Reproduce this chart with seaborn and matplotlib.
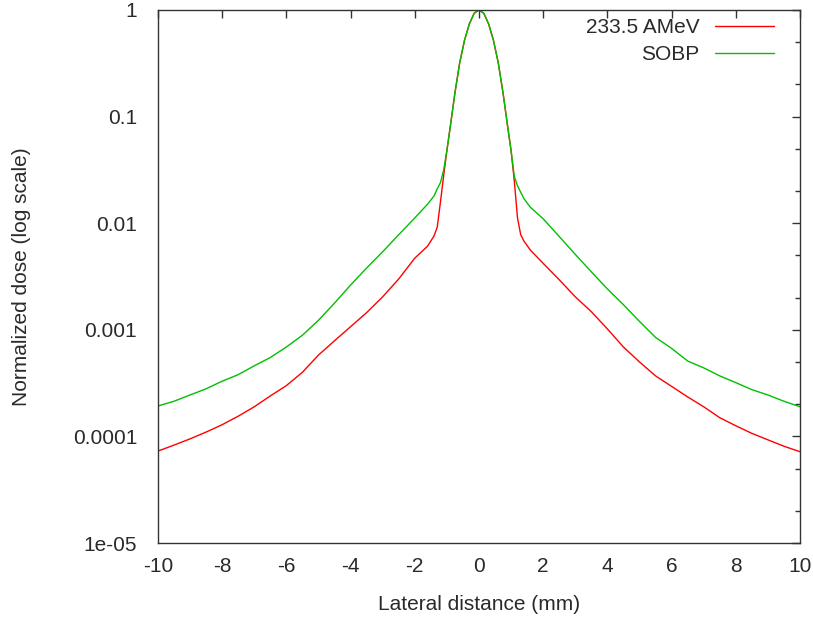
import numpy as np
import pandas as pd
import matplotlib
matplotlib.use("Agg")
import matplotlib.pyplot as plt
import matplotlib.ticker as mticker
import seaborn as sns

# Lateral positions (mm)
lateral_mm = [
    -10, -9.5, -9, -8.5, -8, -7.5, -7, -6.5, -6, -5.5, -5, -4.5, -4, -3.5, -3,
    -2.5, -2, -1.6, -1.4, -1.3, -1.2, -1.1, -1.0, -0.9, -0.75, -0.6, -0.45,
    -0.3, -0.15, 0, 0.15, 0.3, 0.45, 0.6, 0.75, 0.9, 1.0, 1.1, 1.2, 1.3, 1.4,
    1.6, 2, 2.5, 3, 3.5, 4, 4.5, 5, 5.5, 6, 6.5, 7, 7.5, 8, 8.5, 9, 9.5, 10,
]

# Normalized lateral dose, single 233.5 AMeV beam
dose_mono = [
    7.3e-5, 8.3e-5, 9.5e-5, 1.1e-4, 1.29e-4, 1.55e-4, 1.9e-4, 2.4e-4, 3.0e-4,
    4.0e-4, 5.8e-4, 7.9e-4, 1.07e-3, 1.45e-3, 2.04e-3, 3.0e-3, 4.7e-3, 6.1e-3,
    7.6e-3, 9.2e-3, 1.58e-2, 2.8e-2, 4.8e-2, 7.8e-2, 0.166, 0.32, 0.52, 0.74,
    0.93, 1.0, 0.93, 0.74, 0.52, 0.32, 0.166, 7.8e-2, 4.8e-2, 2.5e-2, 1.12e-2,
    7.8e-3, 6.8e-3, 5.6e-3, 4.2e-3, 2.95e-3, 2.04e-3, 1.48e-3, 1.02e-3,
    6.9e-4, 5.0e-4, 3.7e-4, 2.95e-4, 2.35e-4, 1.9e-4, 1.5e-4, 1.26e-4,
    1.07e-4, 9.3e-5, 8.1e-5, 7.2e-5,
]

# Normalized lateral dose, spread-out Bragg peak
dose_sobp = [
    1.93e-4, 2.14e-4, 2.45e-4, 2.8e-4, 3.3e-4, 3.8e-4, 4.6e-4, 5.5e-4, 6.9e-4,
    8.9e-4, 1.23e-3, 1.78e-3, 2.63e-3, 3.8e-3, 5.4e-3, 7.8e-3, 1.12e-2,
    1.51e-2, 1.8e-2, 2.1e-2, 2.4e-2, 3.16e-2, 4.8e-2, 7.8e-2, 0.166, 0.32,
    0.52, 0.74, 0.93, 1.0, 0.93, 0.74, 0.52, 0.32, 0.166, 7.8e-2, 4.8e-2,
    2.75e-2, 2.24e-2, 1.95e-2, 1.7e-2, 1.41e-2, 1.1e-2, 7.5e-3, 5.1e-3,
    3.5e-3, 2.42e-3, 1.72e-3, 1.2e-3, 8.5e-4, 6.7e-4, 5.1e-4, 4.4e-4,
    3.7e-4, 3.2e-4, 2.75e-4, 2.45e-4, 2.14e-4, 1.9e-4,
]

series_labels = ["233.5 AMeV", "SOBP"]
series_colors = ["#ff0000", "#00c000"]

x_ticks = [-10, -8, -6, -4, -2, 0, 2, 4, 6, 8, 10]
y_ticks = [1e-5, 1e-4, 1e-3, 1e-2, 1e-1, 1]
y_tick_labels = ["1e-05", "0.0001", "0.001", "0.01", "0.1", "1"]

df = pd.concat([
    pd.DataFrame({"x": lateral_mm, "dose": dose_mono, "series": series_labels[0]}),
    pd.DataFrame({"x": lateral_mm, "dose": dose_sobp, "series": series_labels[1]}),
], ignore_index=True)

sns.set_style("white")
plt.rcParams["font.family"] = ["Liberation Sans", "DejaVu Sans"]
text_color = "#2a2a2a"
font_size = 15

fig = plt.figure(figsize=(8.13, 6.2), dpi=100)
ax = fig.add_axes([0.1943, 0.124, 0.7897, 0.860])

sns.lineplot(
    data=df, x="x", y="dose", hue="series", hue_order=series_labels,
    palette=dict(zip(series_labels, series_colors)), estimator=None,
    sort=False, linewidth=1.0, ax=ax,
)

ax.set_yscale("log")
ax.set_xlim(-10, 10)
ax.set_ylim(1e-5, 1)
ax.set_xticks(x_ticks)
ax.set_xticklabels([str(t) for t in x_ticks])
ax.yaxis.set_major_locator(mticker.FixedLocator(y_ticks))
ax.yaxis.set_major_formatter(mticker.FixedFormatter(y_tick_labels))
ax.yaxis.set_minor_locator(mticker.LogLocator(base=10, subs=[2, 5]))
ax.yaxis.set_minor_formatter(mticker.NullFormatter())

ax.tick_params(axis="both", which="major", direction="in", length=6,
               width=1, color="#333333", top=True, right=True,
               labelsize=font_size, labelcolor=text_color)
ax.tick_params(axis="x", which="major", pad=10)
ax.tick_params(axis="y", which="major", pad=15)
ax.tick_params(axis="y", which="minor", direction="in", length=3.5,
               width=1, color="#333333", right=True)
for s in ax.spines.values():
    s.set_color("#333333")
    s.set_linewidth(1.0)
    s.set_visible(True)

ax.set_xlabel("Lateral distance (mm)", fontsize=font_size, color=text_color, labelpad=14)
ax.set_ylabel("Normalized dose (log scale)", fontsize=font_size, color=text_color, labelpad=30)

handles, labels = ax.get_legend_handles_labels()
leg = ax.legend(handles, labels, loc="upper right", frameon=False,
                markerfirst=False, fontsize=font_size, handlelength=2.83,
                handletextpad=0.75, labelspacing=0.4, borderpad=0,
                borderaxespad=0, bbox_to_anchor=(0.9594, 0.985))
for t in leg.get_texts():
    t.set_color(text_color)

fig.savefig("out.png", dpi=100, facecolor="white")
